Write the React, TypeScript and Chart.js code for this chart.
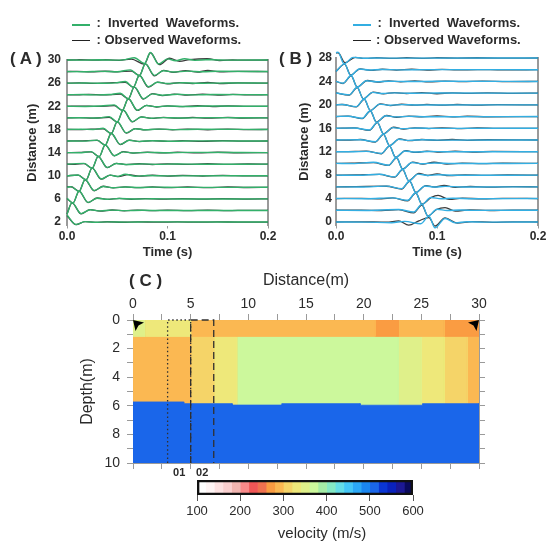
import React, { useEffect, useRef } from 'react';
import { Chart, registerables } from 'chart.js';

Chart.register(...registerables);

const FONT = "'Liberation Sans', Arial, Helvetica, sans-serif";
const TEXT = '#2b2b2b';
const OBS_COLOR = 'rgba(25,25,25,0.85)';
const GREEN = '#33b06a';
const BLUE = '#33aee2';
const AXIS_GRAY = '#9a9a9a';

// ---------------- Panel A (distance 2..30 m) ----------------
const aDistances = [2, 4, 6, 8, 10, 12, 14, 16, 18, 20, 22, 24, 26, 28, 30];
const aTickValues = [2, 6, 10, 14, 18, 22, 26, 30];
const timeTicks = [0, 0.1, 0.2];
// [time (s), amplitude (m of offset)] read at extrema
const aObserved = [
  [[0, 1.1], [.009, -.45], [.018, .08], [.028, -.06], [.04, .05], [.055, -.04], [.07, .04], [.09, -.03], [.11, .03], [.13, -.03], [.15, .03], [.17, -.02], [.2, 0]],
  [[0, -.6], [.005, 1.3], [.014, -.6], [.023, .15], [.033, -.12], [.045, .08], [.057, -.06], [.07, .06], [.085, -.04], [.1, .05], [.12, -.04], [.14, .04], [.16, -.03], [.18, .03], [.2, 0]],
  [[0, .05], [.006, -.7], [.012, 1.3], [.021, -.65], [.03, .15], [.04, -.1], [.052, .08], [.064, -.06], [.078, .06], [.095, -.04], [.115, .05], [.135, -.04], [.155, .04], [.18, -.03], [.2, 0]],
  [[0, .05], [.004, .1], [.012, -.7], [.018, 1.3], [.027, -.6], [.036, .18], [.046, -.1], [.058, .07], [.07, -.06], [.085, .06], [.1, -.05], [.12, .05], [.14, -.04], [.16, .05], [.18, -.03], [.2, 0]],
  [[0, 0], [.011, .1], [.019, -.7], [.025, 1.3], [.034, -.6], [.043, .12], [.051, -.15], [.061, .2], [.072, -.08], [.085, .08], [.1, -.06], [.115, .06], [.135, -.05], [.155, .06], [.18, -.03], [.2, 0]],
  [[0, 0], [.008, -.03], [.017, .1], [.025, -.7], [.031, 1.3], [.04, -.6], [.049, .15], [.059, -.08], [.072, .07], [.085, -.06], [.1, .06], [.12, -.05], [.14, .07], [.16, -.04], [.18, .03], [.2, 0]],
  [[0, 0], [.012, .03], [.024, .12], [.032, -.7], [.038, 1.3], [.047, -.55], [.056, .15], [.066, -.08], [.08, .06], [.095, -.06], [.11, .07], [.13, -.05], [.15, .06], [.17, -.03], [.2, 0]],
  [[0, 0], [.015, .03], [.03, .1], [.038, -.7], [.044, 1.3], [.053, -.62], [.062, .15], [.072, -.1], [.085, .07], [.1, -.06], [.115, .05], [.135, -.06], [.155, .06], [.175, -.03], [.2, 0]],
  [[0, 0], [.012, -.03], [.024, .04], [.036, .1], [.044, -.7], [.05, 1.3], [.059, -.65], [.068, .15], [.078, -.08], [.092, .07], [.105, -.05], [.12, .06], [.14, -.05], [.16, .06], [.18, -.03], [.2, 0]],
  [[0, 0], [.012, .03], [.026, -.04], [.042, .08], [.05, -.7], [.056, 1.3], [.065, -.7], [.074, .18], [.084, -.1], [.096, .08], [.11, -.06], [.125, .07], [.14, -.06], [.16, .07], [.175, -.03], [.2, 0]],
  [[0, 0], [.014, .04], [.03, -.03], [.047, .1], [.055, -.7], [.061, 1.3], [.07, -.72], [.079, .16], [.089, -.12], [.1, .07], [.115, -.07], [.13, .1], [.145, -.05], [.16, .06], [.18, -.03], [.2, 0]],
  [[0, 0], [.01, -.03], [.022, .04], [.036, -.04], [.053, .1], [.061, -.7], [.067, 1.3], [.076, -.75], [.085, .18], [.095, -.14], [.107, .12], [.12, -.06], [.135, .09], [.15, -.07], [.165, .05], [.18, -.03], [.2, 0]],
  [[0, 0], [.012, .03], [.026, -.04], [.042, .05], [.058, .12], [.066, -.7], [.072, 1.32], [.081, -.7], [.09, .18], [.1, -.12], [.112, .09], [.125, -.06], [.14, .15], [.152, -.07], [.17, .03], [.2, 0]],
  [[0, 0], [.01, .04], [.024, -.04], [.038, .06], [.05, -.03], [.064, .08], [.072, -.7], [.078, 1.32], [.087, -.75], [.096, .22], [.106, -.15], [.118, .18], [.13, -.09], [.14, .2], [.152, -.06], [.17, .03], [.2, 0]],
  [[0, 0], [.012, .05], [.025, -.03], [.038, .07], [.052, -.05], [.064, .15], [.077, -.7], [.083, 1.25], [.092, -.8], [.102, .3], [.112, -.22], [.122, .06], [.14, .22], [.152, -.09], [.165, .03], [.18, -.03], [.2, 0]],
];
const aInverted = [
  [[0, 1.2], [.009, -.42], [.018, .07], [.028, -.05], [.04, .03], [.06, -.02], [.08, .02], [.2, 0]],
  [[0, -.65], [.005, 1.35], [.014, -.55], [.023, .12], [.033, -.08], [.044, .06], [.058, -.03], [.075, .03], [.095, -.02], [.2, 0]],
  [[0, .1], [.006, -.72], [.012, 1.35], [.021, -.6], [.03, .12], [.04, -.07], [.052, .06], [.068, -.03], [.085, .03], [.11, -.02], [.2, 0]],
  [[0, 0], [.004, .12], [.012, -.72], [.018, 1.35], [.027, -.55], [.036, .15], [.046, -.08], [.058, .06], [.072, -.03], [.09, .03], [.11, -.02], [.2, 0]],
  [[0, 0], [.011, .12], [.019, -.72], [.025, 1.35], [.034, -.55], [.043, .1], [.05, -.12], [.058, .25], [.068, -.08], [.08, .03], [.1, -.02], [.2, 0]],
  [[0, 0], [.017, .14], [.025, -.72], [.031, 1.35], [.04, -.58], [.049, .12], [.06, -.06], [.075, .05], [.09, -.03], [.11, .03], [.13, -.02], [.2, 0]],
  [[0, 0], [.012, -.02], [.024, .16], [.032, -.72], [.038, 1.35], [.047, -.55], [.056, .12], [.066, -.06], [.08, .04], [.1, -.03], [.12, .03], [.2, 0]],
  [[0, 0], [.016, -.02], [.03, .16], [.038, -.72], [.044, 1.35], [.053, -.58], [.062, .12], [.072, -.06], [.085, .05], [.105, -.03], [.13, .03], [.2, 0]],
  [[0, 0], [.014, .03], [.026, -.02], [.036, .2], [.044, -.72], [.05, 1.35], [.059, -.58], [.068, .12], [.078, -.06], [.09, .05], [.11, -.03], [.13, .03], [.2, 0]],
  [[0, 0], [.016, .03], [.03, -.03], [.042, .22], [.05, -.72], [.056, 1.35], [.065, -.65], [.074, .15], [.084, -.07], [.095, .05], [.115, -.03], [.135, .04], [.2, 0]],
  [[0, 0], [.018, -.03], [.034, .04], [.047, .24], [.055, -.72], [.061, 1.35], [.07, -.68], [.079, .15], [.089, -.08], [.1, .06], [.12, -.03], [.14, .05], [.2, 0]],
  [[0, 0], [.016, .03], [.03, -.03], [.042, .03], [.053, .25], [.061, -.72], [.067, 1.36], [.076, -.68], [.085, .14], [.095, -.08], [.11, .07], [.125, -.03], [.145, .04], [.2, 0]],
  [[0, 0], [.018, .03], [.034, -.03], [.048, .04], [.058, .28], [.066, -.72], [.072, 1.36], [.081, -.62], [.09, .15], [.1, -.07], [.115, .06], [.13, -.03], [.16, .03], [.2, 0]],
  [[0, 0], [.016, -.03], [.034, .04], [.05, -.03], [.063, .3], [.072, -.72], [.078, 1.36], [.087, -.65], [.096, .15], [.106, -.08], [.12, .07], [.135, -.03], [.15, .05], [.2, 0]],
  [[0, 0], [.015, -.03], [.032, .05], [.048, -.03], [.058, .07], [.067, .4], [.077, -.6], [.083, 1.3], [.091, -.7], [.1, .2], [.108, -.12], [.117, .22], [.127, -.06], [.142, .08], [.16, -.03], [.2, 0]],
];

// ---------------- Panel B (distance 0..28 m) ----------------
const bDistances = [0, 2, 4, 6, 8, 10, 12, 14, 16, 18, 20, 22, 24, 26, 28];
const bTickValues = [0, 4, 8, 12, 16, 20, 24, 28];
const bObserved = [
  [[0, 0], [.025, .03], [.05, -.04], [.062, .18], [.072, -.55], [.082, .2], [.092, .75], [.098, -.7], [.108, .7], [.12, -.18], [.135, .06], [.155, -.05], [.175, .03], [.2, 0]],
  [[0, 0], [.025, .03], [.045, -.04], [.062, .1], [.077, -.45], [.085, .9], [.091, -.95], [.1, .18], [.108, .45], [.118, -.14], [.132, .06], [.152, -.04], [.175, .03], [.2, 0]],
  [[0, 0], [.025, .04], [.045, -.03], [.056, .12], [.071, -.4], [.079, .95], [.085, -.95], [.094, .15], [.101, .55], [.112, -.14], [.125, .07], [.145, -.05], [.165, .04], [.2, 0]],
  [[0, 0], [.02, .04], [.05, .1], [.065, -.38], [.073, .95], [.079, -.95], [.089, .22], [.098, -.03], [.107, .25], [.118, -.1], [.133, .06], [.153, -.04], [.175, .03], [.2, 0]],
  [[0, 0], [.02, .03], [.043, .12], [.058, -.35], [.066, .95], [.072, -.95], [.082, .3], [.091, -.06], [.1, .2], [.112, -.1], [.128, .06], [.148, -.04], [.17, .03], [.2, 0]],
  [[0, 0], [.015, .04], [.037, .13], [.052, -.35], [.06, .95], [.066, -.95], [.076, .22], [.086, -.1], [.097, .2], [.11, -.1], [.125, .06], [.145, -.04], [.165, .03], [.2, 0]],
  [[0, 0], [.012, .03], [.03, .1], [.045, -.35], [.053, .95], [.059, -.95], [.069, .18], [.079, -.12], [.09, .1], [.103, -.08], [.118, .08], [.135, -.05], [.155, .04], [.2, 0]],
  [[0, 0], [.012, -.03], [.024, .08], [.039, -.35], [.047, .95], [.053, -.95], [.063, .18], [.073, -.12], [.085, .08], [.1, -.08], [.115, .08], [.13, -.05], [.15, .04], [.2, 0]],
  [[0, 0], [.018, .08], [.033, -.35], [.041, .95], [.047, -.95], [.057, .18], [.067, -.12], [.078, .08], [.092, -.06], [.105, .08], [.12, -.06], [.14, .05], [.16, -.03], [.2, 0]],
  [[0, 0], [.012, .08], [.026, -.35], [.034, .95], [.04, -.95], [.05, .18], [.06, -.12], [.072, .08], [.085, -.06], [.1, .1], [.115, -.06], [.13, .05], [.15, -.03], [.2, 0]],
  [[0, 0], [.006, .06], [.02, -.35], [.028, .95], [.034, -.95], [.044, .18], [.054, -.12], [.065, .1], [.078, -.06], [.09, .08], [.105, -.06], [.12, .06], [.14, -.04], [.16, .03], [.2, 0]],
  [[0, .04], [.013, -.35], [.021, .95], [.027, -.95], [.037, .18], [.047, -.12], [.058, .1], [.07, -.06], [.085, .08], [.1, -.1], [.115, .06], [.13, -.04], [.15, .04], [.175, -.03], [.2, 0]],
  [[0, 0], [.007, -.35], [.015, .95], [.021, -.95], [.031, .16], [.041, -.1], [.052, .08], [.064, -.06], [.078, .1], [.092, -.08], [.108, .06], [.125, -.04], [.145, .04], [.17, -.03], [.2, 0]],
  [[0, -.3], [.0085, .95], [.0145, -.9], [.024, .16], [.034, -.1], [.046, .08], [.06, -.06], [.075, .08], [.09, -.06], [.105, .05], [.12, -.04], [.14, .03], [.165, -.03], [.2, 0]],
  [[0, .85], [.002, .9], [.009, -.8], [.019, .12], [.028, -.06], [.04, .05], [.055, -.08], [.07, .06], [.085, -.05], [.1, .04], [.12, -.03], [.14, .04], [.16, -.03], [.2, 0]],
];
const bInverted = [
  [[0, 0], [.03, -.03], [.055, -.12], [.068, .1], [.084, -.3], [.092, 1.0], [.098, -1.0], [.108, .6], [.118, -.15], [.13, .04], [.15, -.02], [.2, 0]],
  [[0, 0], [.03, -.03], [.062, .12], [.077, -.3], [.085, 1.0], [.091, -1.0], [.1, .18], [.11, -.03], [.122, .05], [.14, -.02], [.2, 0]],
  [[0, 0], [.03, -.03], [.056, .12], [.071, -.3], [.079, 1.0], [.085, -1.0], [.094, .18], [.104, -.03], [.116, .05], [.135, -.02], [.2, 0]],
  [[0, 0], [.025, -.03], [.05, .12], [.065, -.3], [.073, 1.0], [.079, -1.0], [.088, .15], [.098, -.03], [.108, .08], [.125, -.02], [.2, 0]],
  [[0, 0], [.022, -.03], [.043, .15], [.058, -.3], [.066, 1.0], [.072, -1.0], [.081, .18], [.091, -.05], [.101, .06], [.118, -.02], [.2, 0]],
  [[0, 0], [.018, -.03], [.037, .2], [.052, -.3], [.06, 1.0], [.066, -1.0], [.075, .15], [.085, -.06], [.098, .06], [.115, -.02], [.2, 0]],
  [[0, 0], [.015, -.02], [.03, .06], [.045, -.3], [.053, 1.0], [.059, -1.0], [.068, .12], [.078, -.06], [.092, .04], [.11, -.02], [.2, 0]],
  [[0, 0], [.024, .05], [.039, -.3], [.047, 1.0], [.053, -1.0], [.062, .12], [.072, -.06], [.086, .04], [.105, -.02], [.2, 0]],
  [[0, 0], [.018, .05], [.033, -.3], [.041, 1.0], [.047, -1.0], [.056, .12], [.066, -.06], [.08, .04], [.1, -.02], [.2, 0]],
  [[0, 0], [.012, .06], [.026, -.3], [.034, 1.0], [.04, -1.0], [.049, .13], [.059, -.06], [.072, .04], [.09, -.02], [.2, 0]],
  [[0, 0], [.006, .05], [.02, -.3], [.028, 1.0], [.034, -1.0], [.043, .13], [.053, -.06], [.066, .04], [.08, -.02], [.2, 0]],
  [[0, .02], [.013, -.3], [.021, 1.0], [.027, -1.0], [.036, .13], [.046, -.06], [.058, .05], [.075, -.03], [.1, .02], [.2, 0]],
  [[0, 0], [.007, -.3], [.015, 1.0], [.021, -1.0], [.03, .12], [.04, -.05], [.052, .04], [.07, -.02], [.1, .02], [.2, 0]],
  [[0, -.3], [.0085, 1.0], [.0145, -1.0], [.023, .12], [.033, -.05], [.045, .04], [.065, -.02], [.09, .02], [.2, 0]],
  [[0, .9], [.002, 1.0], [.008, -1.0], [.017, .1], [.027, -.03], [.04, .02], [.06, -.02], [.2, 0]],
];

// ---------------- Panel C (velocity model) ----------------
const velocityBinStarts = [100, 120, 140, 160, 180, 200, 220, 240, 260, 280, 300, 320, 340, 360, 380, 400, 420, 440, 460, 480, 500, 520, 540, 560, 580];
const velocityBinColors = ['#ffffff', '#fff5f5', '#fde2e2', '#f9cfcf', '#f0b4b0', '#f98a8a', '#f05656', '#f0714f', '#fa9c42', '#fbb852', '#f5d468', '#eee87a', '#dff08a', '#ccf89c', '#a4eca6', '#84e8c4', '#64dce6', '#44c6f6', '#2ca8f6', '#1a86f0', '#1a66ea', '#0a36d4', '#0a22bc', '#1c1894', '#0a0a5c'];
const velocityTicks = [100, 200, 300, 400, 500, 600];
const layer1Edges = [0, 1, 5, 21, 23, 27, 30];
const layer1Velocity = [345, 330, 290, 270, 290, 270];
const layer1Depth = [0, 1.15];
const layer2Edges = [0, 5, 7, 9, 23, 25, 27, 29, 30];
const layer2Velocity = [290, 310, 330, 365, 345, 330, 310, 290];
const layer2Depth = [1.15, 6.0];
const halfSpaceEdges = [0, 4.4, 8.6, 12.9, 19.7, 25.1, 30];
const halfSpaceTop = [5.73, 5.85, 5.95, 5.85, 5.96, 5.85];
const halfSpaceVelocity = 510;
const modelDepth = 10;
const sourcePositions = [0, 30];
const window01 = [3, 5];
const window02 = [5, 7];
const siteCentres = [4, 6];
const siteNames = ['01', '02'];
const cDistanceLabels = [0, 5, 10, 15, 20, 25, 30];
const cDistanceMinor = [2.5, 7.5, 12.5, 17.5, 22.5, 27.5];
const cDepthLabels = [0, 2, 4, 6, 8, 10];
const cDepthMinor = [1, 3, 5, 7, 9];

function colorOf(v: number) {
  let idx = 0;
  velocityBinStarts.forEach((s, i) => { if (v >= s) idx = i; });
  return velocityBinColors[idx];
}
const merge = (...arrs: number[][]) => Array.from(new Set(arrs.flat())).sort((p, q) => p - q);
const asTicks = (vals: number[]) => vals.map((v) => ({ value: v }));

function waveChart(canvas: HTMLCanvasElement, o: any) {
  const datasets: any[] = [];
  o.dists.forEach((d: number, i: number) => {
    datasets.push({
      label: `Observed ${d}`,
      data: o.obs[i].map((p: number[]) => ({ x: p[0], y: d + p[1] })),
      borderColor: OBS_COLOR, borderWidth: 1.3, showLine: true, pointRadius: 0,
      cubicInterpolationMode: 'monotone', clip: false, order: 2,
    });
    datasets.push({
      label: `Inverted ${d}`,
      data: o.inv[i].map((p: number[]) => ({ x: p[0], y: d + p[1] })),
      borderColor: o.invColor, borderWidth: 1.4, showLine: true, pointRadius: 0,
      cubicInterpolationMode: 'monotone', clip: false, order: 1,
    });
  });
  const bold12 = { family: FONT, size: 12, weight: 'bold' };
  const bold13 = { family: FONT, size: 13, weight: 'bold' };
  return new Chart(canvas, {
    type: 'scatter',
    data: { datasets },
    options: {
      responsive: false, animation: false, events: [],
      layout: { padding: { top: o.top, left: 0, right: o.padRight, bottom: 2.5 } },
      plugins: { legend: { display: false }, tooltip: { enabled: false } },
      scales: {
        x: {
          type: 'linear', min: 0, max: 0.2,
          afterBuildTicks: (s: any) => { s.ticks = asTicks(timeTicks); },
          ticks: { autoSkip: false, maxRotation: 0, font: bold12, color: TEXT, padding: 1, callback: (v: any) => Number(v).toFixed(1) },
          grid: { display: true, drawOnChartArea: false, drawTicks: true, tickLength: 3, tickColor: AXIS_GRAY },
          border: { display: false },
          title: { display: true, text: 'Time (s)', font: bold13, color: TEXT, padding: { top: 0, bottom: 2.7 } },
          afterFit: (s: any) => { s.height = 37; s.paddingLeft = 0; s.paddingRight = 0; },
        },
        y: {
          type: 'linear', min: o.yMin, max: o.yMax,
          afterBuildTicks: (s: any) => { s.ticks = asTicks(o.yTicks); },
          ticks: { autoSkip: false, font: bold12, color: TEXT, padding: o.tickPad },
          grid: { display: false, drawTicks: false },
          border: { display: true, color: AXIS_GRAY, width: 2 },
          title: { display: true, text: 'Distance (m)', font: bold13, color: TEXT, padding: { top: 25, bottom: 0 } },
          afterFit: (s: any) => { s.width = o.yWidth; s.paddingTop = 0; s.paddingBottom = 0; },
        },
        yRight: {
          type: 'linear', position: 'right', min: o.yMin, max: o.yMax,
          ticks: { display: false },
          grid: { display: false, drawTicks: false },
          border: { display: true, color: AXIS_GRAY, width: 2 },
          afterFit: (s: any) => { s.width = 0; s.paddingTop = 0; s.paddingBottom = 0; },
        },
      },
    } as any,
  });
}

function rect(x0: number, x1: number, y0: number, y1: number) {
  return [{ x: x0, y: y0 }, { x: x1, y: y0 }, { x: x1, y: y1 }, { x: x0, y: y1 }, { x: x0, y: y0 }];
}

function arrowImage(mirror: boolean) {
  const c = document.createElement('canvas');
  c.width = 28; c.height = 28;
  const g = c.getContext('2d')!;
  const m = (x: number) => (mirror ? 28 - x : x);
  g.fillStyle = '#000';
  g.beginPath();
  g.moveTo(m(14), 14);
  g.lineTo(m(25), 16.5);
  g.lineTo(m(19.5), 19.5);
  g.lineTo(m(16.5), 25);
  g.closePath();
  g.fill();
  return c;
}

function modelChart(canvas: HTMLCanvasElement) {
  const datasets: any[] = [];
  const cell = (x0: number, x1: number, y0: number, y1: number, v: number) => {
    const col = colorOf(v);
    datasets.push({
      label: `cell ${x0}-${x1}`, data: rect(x0, x1, y0, y1), showLine: true, fill: 'shape',
      backgroundColor: col, borderColor: col, borderWidth: 0.8, pointRadius: 0, order: 3,
    });
  };
  layer1Velocity.forEach((v, i) => cell(layer1Edges[i], layer1Edges[i + 1], layer1Depth[0], layer1Depth[1], v));
  layer2Velocity.forEach((v, i) => cell(layer2Edges[i], layer2Edges[i + 1], layer2Depth[0], layer2Depth[1], v));
  const hs: any[] = [];
  halfSpaceTop.forEach((d, i) => { hs.push({ x: halfSpaceEdges[i], y: d }); hs.push({ x: halfSpaceEdges[i + 1], y: d }); });
  hs.push({ x: halfSpaceEdges[halfSpaceEdges.length - 1], y: modelDepth });
  hs.push({ x: halfSpaceEdges[0], y: modelDepth });
  hs.push({ x: halfSpaceEdges[0], y: halfSpaceTop[0] });
  const hc = colorOf(halfSpaceVelocity);
  datasets.push({ label: 'half-space', data: hs, showLine: true, fill: 'shape', backgroundColor: hc, borderColor: hc, borderWidth: 0.8, pointRadius: 0, order: 2 });
  const win = (w: number[], dash: number[]) => datasets.push({
    label: 'window', data: [{ x: w[0], y: modelDepth }, { x: w[0], y: 0 }, { x: w[1], y: 0 }, { x: w[1], y: modelDepth }],
    showLine: true, fill: false, borderColor: '#303030', borderWidth: 1.3, borderDash: dash, pointRadius: 0, clip: false, order: 1,
  });
  win(window01, [1.5, 2.6]);
  win(window02, [7, 4]);
  datasets.push({ label: 'source', data: [{ x: sourcePositions[0], y: 0 }], pointStyle: arrowImage(false), pointRadius: 7, showLine: false, clip: false, order: 0 });
  datasets.push({ label: 'receiver', data: [{ x: sourcePositions[1], y: 0 }], pointStyle: arrowImage(true), pointRadius: 7, showLine: false, clip: false, order: 0 });

  const f14 = { family: FONT, size: 14 };
  const f16 = { family: FONT, size: 16 };
  return new Chart(canvas, {
    type: 'scatter',
    data: { datasets },
    options: {
      responsive: false, animation: false, events: [],
      layout: { padding: { top: 0, left: 0, right: 13, bottom: 0 } },
      plugins: { legend: { display: false }, tooltip: { enabled: false } },
      scales: {
        x: {
          type: 'linear', position: 'top', min: 0, max: 30,
          afterBuildTicks: (s: any) => { s.ticks = asTicks(merge(cDistanceLabels, cDistanceMinor)); },
          ticks: { autoSkip: false, maxRotation: 0, font: f14, color: TEXT, padding: 1, callback: (v: any) => (cDistanceLabels.includes(v) ? String(v) : '') },
          grid: { drawOnChartArea: false, tickLength: 6, tickColor: AXIS_GRAY },
          border: { color: AXIS_GRAY },
          title: { display: true, text: 'Distance(m)', font: f16, color: TEXT, padding: { top: 13, bottom: 0 } },
          afterFit: (s: any) => { s.height = 62; s.paddingLeft = 0; s.paddingRight = 0; },
        },
        xb: {
          type: 'linear', position: 'bottom', min: 0, max: 30,
          afterBuildTicks: (s: any) => { s.ticks = asTicks(merge(cDistanceLabels, cDistanceMinor, siteCentres)); },
          ticks: {
            autoSkip: false, maxRotation: 0, font: { family: FONT, size: 11, weight: 'bold' }, color: TEXT, padding: -3,
            callback: (v: any) => { const k = siteCentres.indexOf(v); return k >= 0 ? siteNames[k] : ''; },
          },
          grid: {
            drawOnChartArea: false, tickLength: 6,
            tickColor: (ctx: any) => (ctx.tick && siteCentres.includes(ctx.tick.value) ? 'rgba(0,0,0,0)' : AXIS_GRAY),
          },
          border: { color: AXIS_GRAY },
          afterFit: (s: any) => { s.height = 20; s.paddingLeft = 0; s.paddingRight = 0; },
        },
        y: {
          type: 'linear', min: 0, max: modelDepth, reverse: true,
          afterBuildTicks: (s: any) => { s.ticks = asTicks(merge(cDepthLabels, cDepthMinor)); },
          ticks: { autoSkip: false, font: f14, color: TEXT, padding: 7, callback: (v: any) => (cDepthLabels.includes(v) ? String(v) : '') },
          grid: { drawOnChartArea: false, tickLength: 6, tickColor: AXIS_GRAY },
          border: { color: AXIS_GRAY },
          title: { display: true, text: 'Depth(m)', font: f16, color: TEXT, padding: { top: 18, bottom: 0 } },
          afterFit: (s: any) => { s.width = 73; s.paddingTop = 0; s.paddingBottom = 0; },
        },
        yr: {
          type: 'linear', position: 'right', min: 0, max: modelDepth, reverse: true,
          afterBuildTicks: (s: any) => { s.ticks = asTicks(merge(cDepthLabels, cDepthMinor)); },
          ticks: { display: false },
          grid: { drawOnChartArea: false, tickLength: 6, tickColor: AXIS_GRAY },
          border: { color: AXIS_GRAY },
          afterFit: (s: any) => { s.width = 8; s.paddingTop = 0; s.paddingBottom = 0; },
        },
      },
    } as any,
  });
}

function colorbarChart(canvas: HTMLCanvasElement) {
  const datasets: any[] = velocityBinStarts.map((s, i) => ({
    label: `${s}`,
    data: [[s, i + 1 < velocityBinStarts.length ? velocityBinStarts[i + 1] : velocityTicks[velocityTicks.length - 1]]],
    backgroundColor: velocityBinColors[i], borderWidth: 0, grouped: false,
    barPercentage: 1, categoryPercentage: 1, order: 2,
  }));
  datasets.push({
    label: 'frame', data: [[velocityTicks[0], velocityTicks[velocityTicks.length - 1]]],
    backgroundColor: 'rgba(0,0,0,0)', borderColor: '#111', borderWidth: 2, borderSkipped: false,
    grouped: false, barPercentage: 1, categoryPercentage: 1, order: 1,
  });
  return new Chart(canvas, {
    type: 'bar',
    data: { labels: [''], datasets },
    options: {
      indexAxis: 'y', responsive: false, animation: false, events: [],
      layout: { padding: { top: 10, left: 0, right: 0, bottom: 0 } },
      plugins: {
        legend: { display: false }, tooltip: { enabled: false },
        title: { display: true, position: 'bottom', text: 'velocity (m/s)', font: { family: FONT, size: 15, weight: 'normal' }, color: TEXT, padding: { top: 4, bottom: 0 } },
      },
      scales: {
        x: {
          type: 'linear', min: velocityTicks[0], max: velocityTicks[velocityTicks.length - 1],
          afterBuildTicks: (s: any) => { s.ticks = asTicks(velocityTicks); },
          ticks: { autoSkip: false, maxRotation: 0, font: { family: FONT, size: 13 }, color: TEXT, padding: 3 },
          grid: { drawOnChartArea: false, tickLength: 6, tickColor: '#555' },
          border: { display: false },
          afterFit: (s: any) => { s.height = 26; s.paddingLeft = 0; s.paddingRight = 0; },
        },
        y: {
          type: 'category', ticks: { display: false }, grid: { display: false, drawTicks: false }, border: { display: false },
          afterFit: (s: any) => { s.width = 17; s.paddingTop = 0; s.paddingBottom = 0; },
        },
        yPad: {
          type: 'linear', position: 'right', ticks: { display: false }, grid: { display: false, drawTicks: false }, border: { display: false },
          afterFit: (s: any) => { s.width = 51; s.paddingTop = 0; s.paddingBottom = 0; },
        },
      },
    } as any,
  });
}

const abs = (l: number, t: number): React.CSSProperties => ({ position: 'absolute', left: l, top: t });

function LegendRow({ x, lineY, textX, textTop, color, text }: any) {
  return (
    <>
      <div style={{ ...abs(x, lineY - 0.75), width: 18, height: 1.6, background: color }} />
      <div style={{ ...abs(textX, textTop), fontSize: 13, fontWeight: 'bold', lineHeight: '16px', whiteSpace: 'pre', color: TEXT }}>{text}</div>
    </>
  );
}

export default function App() {
  const aRef = useRef<HTMLCanvasElement>(null);
  const bRef = useRef<HTMLCanvasElement>(null);
  const cRef = useRef<HTMLCanvasElement>(null);
  const cbRef = useRef<HTMLCanvasElement>(null);

  useEffect(() => {
    const charts = [
      waveChart(aRef.current!, { dists: aDistances, obs: aObserved, inv: aInverted, invColor: GREEN, yMin: 1.4, yMax: 30, yTicks: aTickValues, yWidth: 67, tickPad: 6, top: 60, padRight: 14 }),
      waveChart(bRef.current!, { dists: bDistances, obs: bObserved, inv: bInverted, invColor: BLUE, yMin: -0.6, yMax: 28, yTicks: bTickValues, yWidth: 64, tickPad: 4, top: 58, padRight: 10 }),
      modelChart(cRef.current!),
      colorbarChart(cbRef.current!),
    ];
    return () => charts.forEach((c) => c.destroy());
  }, []);

  const panelLabel: React.CSSProperties = { fontSize: 17, fontWeight: 'bold', lineHeight: '20px', whiteSpace: 'pre', color: TEXT };
  return (
    <div style={{ position: 'absolute', left: 0, top: 0, width: 548, height: 543, overflow: 'hidden', background: '#fff', fontFamily: FONT }}>
      <canvas ref={aRef} width={282} height={265} style={abs(0, 0)} />
      <canvas ref={bRef} width={276} height={265} style={abs(272, 0)} />
      <canvas ref={cRef} width={440} height={225} style={abs(60, 258)} />
      <canvas ref={cbRef} width={284} height={73} style={abs(180, 470)} />

      <LegendRow x={72} lineY={25} textX={96.5} textTop={15.4} color={GREEN} text={':  Inverted  Waveforms.'} />
      <LegendRow x={72} lineY={40.5} textX={96.5} textTop={32.4} color="#222" text={': Observed Waveforms.'} />
      <LegendRow x={353} lineY={25} textX={377.5} textTop={15.4} color={BLUE} text={':  Inverted  Waveforms.'} />
      <LegendRow x={353} lineY={40.5} textX={376} textTop={32.4} color="#222" text={': Observed Waveforms.'} />

      <div style={{ ...abs(10, 48.5), ...panelLabel }}>{'( A )'}</div>
      <div style={{ ...abs(279, 48.5), ...panelLabel }}>{'( B )'}</div>
      <div style={{ ...abs(129, 270.5), ...panelLabel }}>{'( C )'}</div>
    </div>
  );
}
